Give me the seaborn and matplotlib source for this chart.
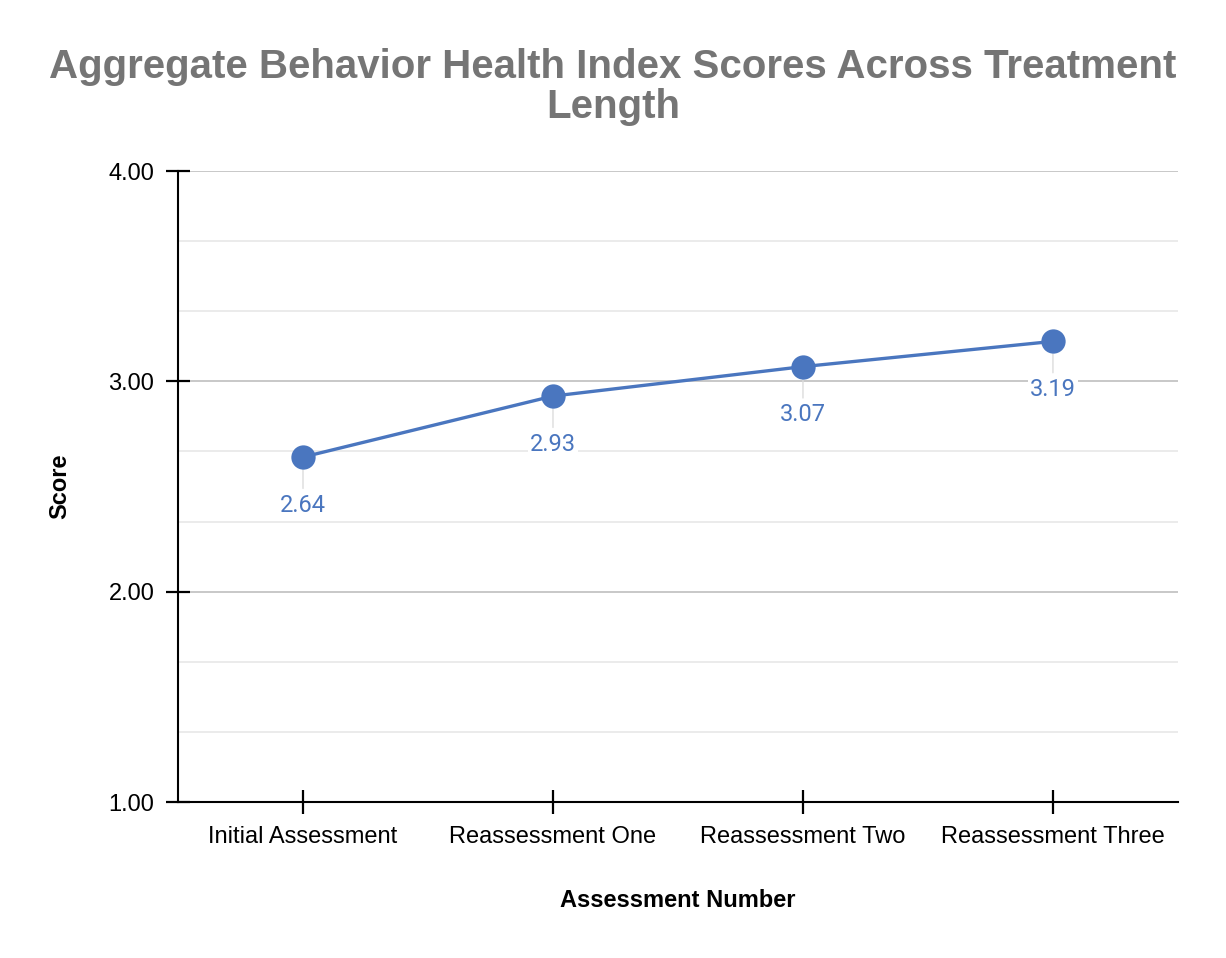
import matplotlib
matplotlib.use("Agg")
import matplotlib.pyplot as plt
from matplotlib.ticker import MultipleLocator, FormatStrFormatter
import pandas as pd
import seaborn as sns

# data
assessments = ["Initial Assessment", "Reassessment One",
               "Reassessment Two", "Reassessment Three"]
scores = [2.64, 2.93, 3.07, 3.19]
score_labels = ["2.64", "2.93", "3.07", "3.19"]

BLUE = "#4a76bf"
TITLE_GRAY = "#757575"

sns.set_style("white")
plt.rcParams["font.family"] = ["Liberation Sans", "DejaVu Sans"]
plt.rcParams["text.color"] = "black"
plt.rcParams["axes.labelcolor"] = "black"

df = pd.DataFrame({"assessment": assessments, "score": scores})

fig = plt.figure(figsize=(12.26, 9.58), dpi=100)
ax = fig.add_axes([0.1452, 0.1628, 0.8156, 0.6587])

sns.lineplot(data=df, x="assessment", y="score", ax=ax, color=BLUE,
             linewidth=2.4, marker="o", markersize=17.5,
             markeredgewidth=0, zorder=3)

ax.set_xlim(-0.5, len(assessments) - 0.5)
ax.set_ylim(1, 4)
ax.yaxis.set_major_locator(MultipleLocator(1))
ax.yaxis.set_minor_locator(MultipleLocator(1 / 3))
ax.yaxis.set_major_formatter(FormatStrFormatter("%.2f"))

ax.grid(axis="y", which="major", color="#c4c4c4", linewidth=1.3, zorder=0)
ax.grid(axis="y", which="minor", color="#e6e6e6", linewidth=1.1, zorder=0)
ax.set_axisbelow(True)

for side in ("top", "right"):
    ax.spines[side].set_visible(False)
for side in ("left", "bottom"):
    ax.spines[side].set_color("black")
    ax.spines[side].set_linewidth(1.5)

ax.tick_params(axis="both", which="major", direction="inout", length=17,
               width=1.6, color="black", labelsize=17, pad=8.5,
               labelcolor="black", bottom=True, left=True)
ax.tick_params(axis="y", which="minor", length=0, left=False)

ax.set_xlabel("Assessment Number", fontsize=17, fontweight="bold",
              labelpad=30, color="black")
ax.set_ylabel("Score", fontsize=17, fontweight="bold", labelpad=27,
              color="black")

# data labels under each point with a light leader line
for i, (v, lab) in enumerate(zip(scores, score_labels)):
    ax.annotate(lab, xy=(i, v), xytext=(0, -48), textcoords="offset pixels",
                ha="center", va="center", fontsize=17, color=BLUE,
                family="Roboto",
                bbox=dict(boxstyle="square,pad=0.1", fc="white", ec="none"),
                arrowprops=dict(arrowstyle="-", color="#dcdcdc", lw=1,
                                shrinkA=2, shrinkB=9),
                zorder=2)

fig.suptitle("Aggregate Behavior Health Index Scores Across Treatment\nLength",
             x=0.5, y=0.95, fontsize=29, fontweight="bold",
             color=TITLE_GRAY, linespacing=1.07)

fig.savefig("out.png", dpi=100, facecolor="white")
